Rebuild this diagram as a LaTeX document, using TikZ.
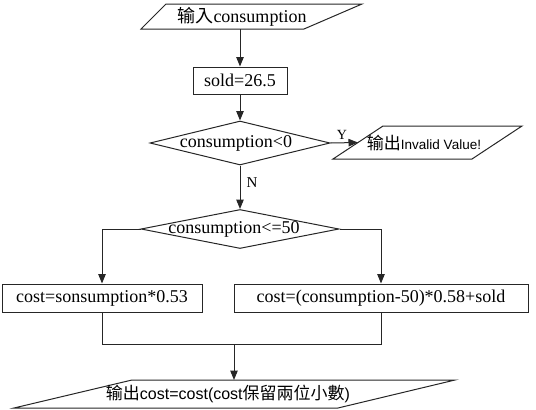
\documentclass[tikz,border=0pt]{standalone}
\usepackage{fontspec}
\setmainfont{Liberation Serif}
\newfontfamily\cjk{Noto Sans CJK TC}
\newfontfamily\hel{Liberation Sans}
\usetikzlibrary{arrows.meta,shapes.geometric}
\begin{document}
\begin{tikzpicture}[x=1pt,y=-1pt,line width=1pt,
  ln/.style={draw=black!85},
  conn/.style={draw=black!85,-{Triangle[length=9.5pt,width=7.5pt]}},
  boxst/.style={draw=black!85,inner sep=0pt,font=\fontsize{18}{20}\selectfont},
  dia/.style={diamond,draw=black!85,inner sep=0pt},
  txt/.style={inner sep=0pt,font=\fontsize{18}{20}\selectfont},
  lab/.style={inner sep=0pt,font=\fontsize{15}{17}\selectfont}]
\useasboundingbox (0,0) rectangle (536,410);
% input parallelogram
\draw[ln] (141,29) -- (166,4) -- (362,4) -- (304,29) -- cycle;
\node[txt] (in) at (242,17) {{\cjk 输入}consumption};
\coordinate (inb) at (240,29);
% sold
\node[boxst,minimum width=94pt,minimum height=27pt] (sold) at (240,80.5) {sold=26.5};
% diamond 1
\node[dia,minimum width=180pt,minimum height=44pt] (d1) at (240,143) {};
\node[txt] (d1t) at (236,143) {consumption<0};
% output invalid
\draw[ln] (333,159) -- (383,126) -- (522,126) -- (472,159) -- cycle;
\coordinate (p2w) at (358,142.5);
\node[txt,font=\fontsize{17}{19}\selectfont] (p2) at (424,143) {{\cjk 输出}{\hel\fontsize{13.5}{15}\selectfont Invalid Value!}};
% diamond 2
\node[dia,minimum width=198pt,minimum height=39pt] (d2) at (240,229) {};
\node[txt] (d2t) at (234,229) {consumption<=50};
% boxes
\node[boxst,minimum width=200pt,minimum height=28pt] (left) at (102,298) {cost=sonsumption*0.53};
\node[boxst,minimum width=294pt,minimum height=28pt] (right) at (381,298) {cost=(consumption-50)*0.58+sold};
% output cost
\draw[ln] (14,408) -- (132,380) -- (455,380) -- (338,408) -- cycle;
\node[txt,font=\fontsize{17}{19}\selectfont] (p3) at (228,394) {{\cjk 输出}{\hel\fontsize{16}{18}\selectfont cost=cost(cost}{\cjk 保留兩位小數}{\hel\fontsize{16}{18}\selectfont )}};
\coordinate (p3n) at (234,380);
% connectors
\draw[conn] (inb) -- (sold.north);
\draw[conn] (sold.south) -- (d1.north);
\draw[conn] (d1.east) -- (p2w);
\node[lab,font=\fontsize{14}{16}\selectfont] (ylab) at (342,135) {Y};
\draw[conn] (d1.south) -- (d2.north);
\node[lab] (nlab) at (252,183) {N};
\draw[conn] (d2.west) -| (left.north);
\draw[conn] (d2.east) -| (right.north);
\coordinate (jl) at (102,344);
\coordinate (jr) at (381,344);
\coordinate (jm) at (234,344);
\draw[ln] (left.south) -- (jl) -- (jr) -- (right.south);
\draw[conn] (jm) -- (p3n);
\end{tikzpicture}
\end{document}
